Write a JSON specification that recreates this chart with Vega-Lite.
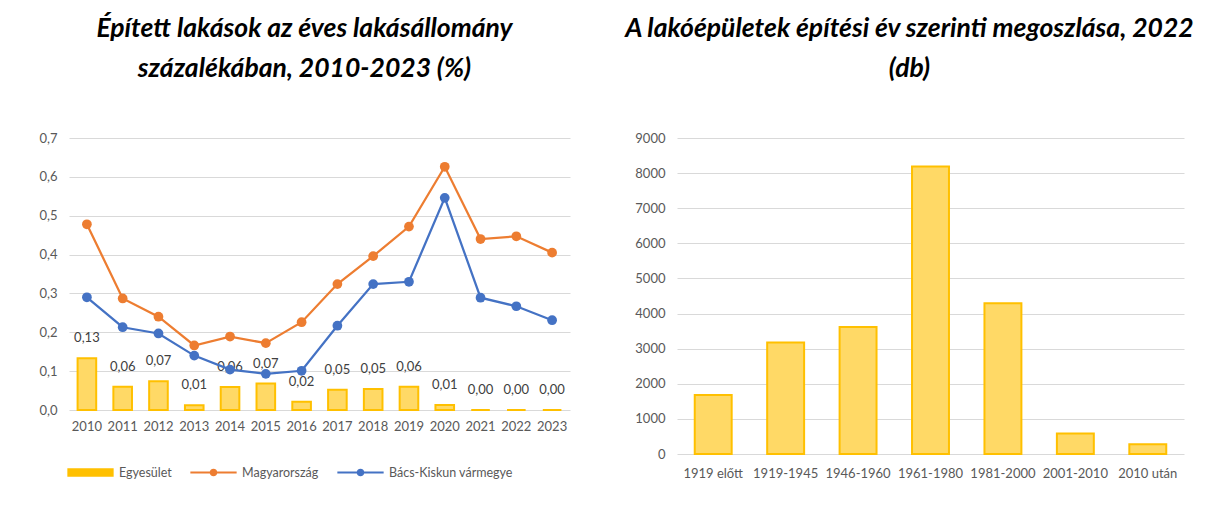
{
  "$schema": "https://vega.github.io/schema/vega-lite/v6.json",
  "background": "white",
  "padding": {"left": 38, "top": 15, "right": 0, "bottom": 0},
  "bounds": "flush",
  "spacing": 107,
  "resolve": {"scale": {"color": "independent"}},
  "datasets": {
    "egy": [
      {"year": "2010", "value": 0.133},
      {"year": "2011", "value": 0.060},
      {"year": "2012", "value": 0.074},
      {"year": "2013", "value": 0.012},
      {"year": "2014", "value": 0.059},
      {"year": "2015", "value": 0.068},
      {"year": "2016", "value": 0.021},
      {"year": "2017", "value": 0.052},
      {"year": "2018", "value": 0.054},
      {"year": "2019", "value": 0.060},
      {"year": "2020", "value": 0.013},
      {"year": "2021", "value": 0},
      {"year": "2022", "value": 0},
      {"year": "2023", "value": 0}
    ],
    "lines": [
      {"year": "2010", "series": "Magyarország", "value": 0.478},
      {"year": "2011", "series": "Magyarország", "value": 0.287},
      {"year": "2012", "series": "Magyarország", "value": 0.240},
      {"year": "2013", "series": "Magyarország", "value": 0.166},
      {"year": "2014", "series": "Magyarország", "value": 0.189},
      {"year": "2015", "series": "Magyarország", "value": 0.172},
      {"year": "2016", "series": "Magyarország", "value": 0.226},
      {"year": "2017", "series": "Magyarország", "value": 0.324},
      {"year": "2018", "series": "Magyarország", "value": 0.396},
      {"year": "2019", "series": "Magyarország", "value": 0.472},
      {"year": "2020", "series": "Magyarország", "value": 0.626},
      {"year": "2021", "series": "Magyarország", "value": 0.440},
      {"year": "2022", "series": "Magyarország", "value": 0.447},
      {"year": "2023", "series": "Magyarország", "value": 0.405},
      {"year": "2010", "series": "Bács-Kiskun vármegye", "value": 0.290},
      {"year": "2011", "series": "Bács-Kiskun vármegye", "value": 0.213},
      {"year": "2012", "series": "Bács-Kiskun vármegye", "value": 0.197},
      {"year": "2013", "series": "Bács-Kiskun vármegye", "value": 0.140},
      {"year": "2014", "series": "Bács-Kiskun vármegye", "value": 0.104},
      {"year": "2015", "series": "Bács-Kiskun vármegye", "value": 0.093},
      {"year": "2016", "series": "Bács-Kiskun vármegye", "value": 0.101},
      {"year": "2017", "series": "Bács-Kiskun vármegye", "value": 0.217},
      {"year": "2018", "series": "Bács-Kiskun vármegye", "value": 0.324},
      {"year": "2019", "series": "Bács-Kiskun vármegye", "value": 0.330},
      {"year": "2020", "series": "Bács-Kiskun vármegye", "value": 0.546},
      {"year": "2021", "series": "Bács-Kiskun vármegye", "value": 0.289},
      {"year": "2022", "series": "Bács-Kiskun vármegye", "value": 0.267},
      {"year": "2023", "series": "Bács-Kiskun vármegye", "value": 0.231}
    ],
    "epulet": [
      {"period": "1919 előtt", "count": 1680},
      {"period": "1919-1945", "count": 3178},
      {"period": "1946-1960", "count": 3619},
      {"period": "1961-1980", "count": 8188},
      {"period": "1981-2000", "count": 4294},
      {"period": "2001-2010", "count": 584},
      {"period": "2010 után", "count": 278}
    ]
  },
  "config": {
    "locale": {"number": {"decimal": ",", "thousands": "", "grouping": [3], "currency": ["", ""]}},
    "view": {"stroke": null},
    "font": "Lato",
    "axis": {
      "domain": false,
      "ticks": false,
      "gridColor": "#D9D9D9",
      "gridWidth": 1,
      "labelFont": "Lato",
      "labelFontSize": 13,
      "labelColor": "#595959",
      "labelOverlap": false,
      "title": null
    },
    "axisX": {"grid": false, "labelAngle": 0, "labelPadding": 10},
    "axisY": {"labelPadding": 12},
    "title": {
      "font": "Lato",
      "fontSize": 26.5,
      "fontStyle": "italic",
      "fontWeight": "bold",
      "color": "#000000",
      "lineHeight": 40,
      "anchor": "middle",
      "frame": "bounds",
      "offset": 50
    }
  },
  "hconcat": [
    {
      "width": 501,
      "height": 272,
      "title": {"text": ["Épített lakások az éves lakásállomány", "százalékában, 2010-2023 (%)"]},
      "encoding": {
        "x": {"field": "year", "type": "ordinal", "scale": {"paddingInner": 0.48, "paddingOuter": 0.24}},
        "y": {"field": "value", "type": "quantitative", "scale": {"domain": [0, 0.7]}, "axis": {"values": [0, 0.1, 0.2, 0.3, 0.4, 0.5, 0.6, 0.7], "format": ".1f"}}
      },
      "layer": [
        {
          "data": {"name": "egy"},
          "mark": {"type": "bar", "fill": "#FFD966", "stroke": "#FFC000", "strokeWidth": 2}
        },
        {
          "data": {"name": "egy"},
          "mark": {"type": "text", "dy": -20, "baseline": "middle", "font": "Lato", "fontSize": 13, "color": "#404040"},
          "encoding": {
            "text": {"field": "value", "type": "quantitative", "format": ".2f"}
          }
        },
        {
          "data": {"name": "lines"},
          "mark": {"type": "line", "strokeWidth": 2.25, "point": {"filled": true, "size": 95, "opacity": 1}},
          "encoding": {
            "color": {
              "field": "series",
              "type": "nominal",
              "scale": {"domain": ["Egyesület", "Magyarország", "Bács-Kiskun vármegye"], "range": ["#FFC000", "#ED7D31", "#4472C4"]},
              "legend": {
                "orient": "none",
                "legendX": -2,
                "legendY": 311,
                "direction": "horizontal",
                "title": null,
                "symbolSize": 2025,
                "symbolStrokeWidth": 1.3,
                "labelFont": "Lato",
                "labelFontSize": 12.5,
                "labelColor": "#595959",
                "columnPadding": 16,
                "labelOffset": 5,
                "encode": {
                  "symbols": {
                    "update": {
                      "shape": {"signal": "datum.value === 'Egyesület' ? 'M-1,-0.16H1V0.16H-1Z' : 'M-1,-0.012H1V0.012H-1ZM0.14,0A0.14,0.14,0,1,1,-0.14,0A0.14,0.14,0,1,1,0.14,0Z'"},
                      "fill": {"signal": "datum.value === 'Egyesület' ? '#FFD966' : (datum.value === 'Magyarország' ? '#ED7D31' : '#4472C4')"},
                      "stroke": {"signal": "datum.value === 'Egyesület' ? '#FFC000' : (datum.value === 'Magyarország' ? '#ED7D31' : '#4472C4')"},
                      "opacity": {"value": 1},
                      "fillOpacity": {"value": 1},
                      "strokeOpacity": {"value": 1}
                    }
                  }
                }
              }
            }
          }
        }
      ]
    },
    {
      "width": 507,
      "height": 316,
      "title": {"text": ["A lakóépületek építési év szerinti megoszlása, 2022", "(db)"]},
      "data": {"name": "epulet"},
      "mark": {"type": "bar", "fill": "#FFD966", "stroke": "#FFC000", "strokeWidth": 2},
      "encoding": {
        "x": {"field": "period", "type": "nominal", "sort": null, "scale": {"paddingInner": 0.49, "paddingOuter": 0.245}, "axis": {"labelPadding": 13}},
        "y": {"field": "count", "type": "quantitative", "scale": {"domain": [0, 9000]}, "axis": {"values": [0, 1000, 2000, 3000, 4000, 5000, 6000, 7000, 8000, 9000], "format": "d"}}
      }
    }
  ]
}
